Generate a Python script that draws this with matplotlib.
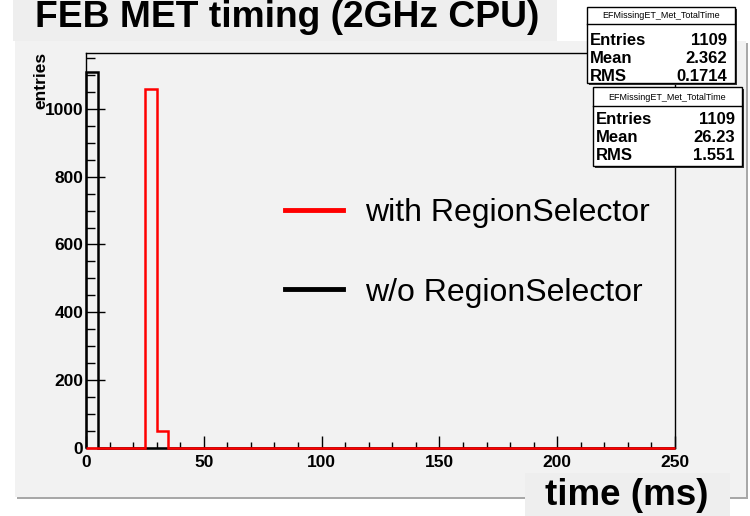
import numpy as np
import matplotlib
matplotlib.use("Agg")
import matplotlib.pyplot as plt
from matplotlib.patches import Rectangle
from matplotlib.lines import Line2D

plt.rcParams['font.family'] = ['Liberation Sans', 'DejaVu Sans']

# histogram data (5 ms bins, 0-250 ms)
bin_width = 5
n_bins = 50
red_bin_starts = [25, 30]
red_counts = [1058, 51]
black_bin_starts = [0]
black_counts = [1109]

stat_title = "EFMissingET_Met_TotalTime"
stat_labels = ["Entries", "Mean", "RMS"]
stats_black = ["1109", "2.362", "0.1714"]
stats_red = ["1109", "26.23", "1.551"]

x_ticks = [0, 50, 100, 150, 200, 250]
y_ticks = [0, 200, 400, 600, 800, 1000]

edges = np.arange(n_bins + 1) * bin_width
red_h = np.zeros(n_bins)
red_h[[s // bin_width for s in red_bin_starts]] = red_counts
black_h = np.zeros(n_bins)
black_h[[s // bin_width for s in black_bin_starts]] = black_counts

W, H = 750, 516
fig = plt.figure(figsize=(W / 100, H / 100), dpi=100, facecolor='white')


def fx(x):
    return x / W


def fy(y):
    return 1 - y / H


def box(x0, y0, x1, y1, **kw):
    r = Rectangle((fx(x0), fy(y1)), fx(x1) - fx(x0), fy(y0) - fy(y1),
                  transform=fig.transFigure, **kw)
    fig.patches.append(r)
    return r


# canvas background + shadow border
box(17, 43, 748, 499, facecolor='#a8a8a8', edgecolor='none', zorder=0)
box(15, 41, 746, 497, facecolor='#f2f2f2', edgecolor='none', zorder=0)
# title box
box(13, 0, 557, 41, facecolor='#eeeeee', edgecolor='none', zorder=0)

ax = fig.add_axes([fx(86), fy(448), fx(675) - fx(86), fy(53) - fy(448)])
ax.set_zorder(1)
ax.set_facecolor('#f2f2f2')
ax.stairs(black_h, edges, color='black', lw=1.8, clip_on=False, zorder=3)
ax.stairs(red_h, edges, color='red', lw=1.8, clip_on=False, zorder=4)
ax.set_xlim(0, 250)
ax.set_ylim(0, max(black_counts) * 1.05)

ax.set_xticks(x_ticks)
ax.set_xticks(np.arange(0, 251, 10), minor=True)
ax.set_yticks(y_ticks)
ax.set_yticks(np.arange(0, 1151, 50), minor=True)
ax.tick_params(axis='x', which='major', direction='in', length=8.6, width=1, pad=5)
ax.tick_params(axis='x', which='minor', direction='in', length=4.3, width=1)
ax.tick_params(axis='y', which='major', direction='in', length=13.7, width=1, pad=2)
ax.tick_params(axis='y', which='minor', direction='in', length=6.8, width=1)
for lab in ax.get_xticklabels() + ax.get_yticklabels():
    lab.set_fontweight('bold')
    lab.set_fontsize(12.5)
for s in ax.spines.values():
    s.set_linewidth(1)

fig.text(fx(41), fy(52), "entries", rotation=90, ha='center', va='top',
         fontsize=12.5, fontweight='bold', zorder=2)

# legend
handles = [Line2D([], [], color='red', lw=3.5), Line2D([], [], color='black', lw=3.5)]
leg = fig.legend(handles, ["with RegionSelector", "w/o RegionSelector"],
                 loc='upper left', bbox_to_anchor=(fx(285), fy(198)), frameon=False,
                 fontsize=23, handlelength=1.8, handletextpad=0.7, labelspacing=1.55,
                 borderpad=0, borderaxespad=0)
leg.set_zorder(2)

# title and axis label
fig.text(fx(35), fy(27), "FEB MET timing (2GHz CPU)", fontsize=26.8,
         fontweight='bold', va='baseline')
box(525, 473, 730, 516, facecolor='#eeeeee', edgecolor='none', zorder=3)
fig.text(fx(627), fy(505), "time (ms)", fontsize=26.5, fontweight='bold',
         ha='center', va='baseline', zorder=4)


# stats boxes
def stat_box(x0, y0, x1, y1, ysep, ytitle, ybase, xval, values):
    box(x0 + 2, y0 + 2, x1 + 2, y1 + 2, facecolor='#333333', edgecolor='none', zorder=5)
    box(x0, y0, x1, y1, facecolor='white', edgecolor='black', lw=1, zorder=6)
    fig.add_artist(Line2D([fx(x0), fx(x1)], [fy(ysep), fy(ysep)], color='black',
                          lw=1, transform=fig.transFigure, zorder=7))
    fig.text(fx((x0 + x1) / 2), fy(ytitle), stat_title, ha='center', va='center',
             fontsize=6.5, zorder=7)
    for i, (lab, val) in enumerate(zip(stat_labels, values)):
        fig.text(fx(x0 + 3), fy(ybase[i]), lab, fontsize=12, fontweight='bold',
                 va='baseline', zorder=7)
        fig.text(fx(xval), fy(ybase[i]), val, fontsize=12, fontweight='bold',
                 va='baseline', ha='right', zorder=7)


stat_box(587, 7, 735, 83, 24, 16, [45, 63, 81], 727, stats_black)
stat_box(593, 87, 742, 166, 106, 97, [124, 142, 160], 735, stats_red)

fig.savefig("out.png", dpi=100, facecolor=fig.get_facecolor())
